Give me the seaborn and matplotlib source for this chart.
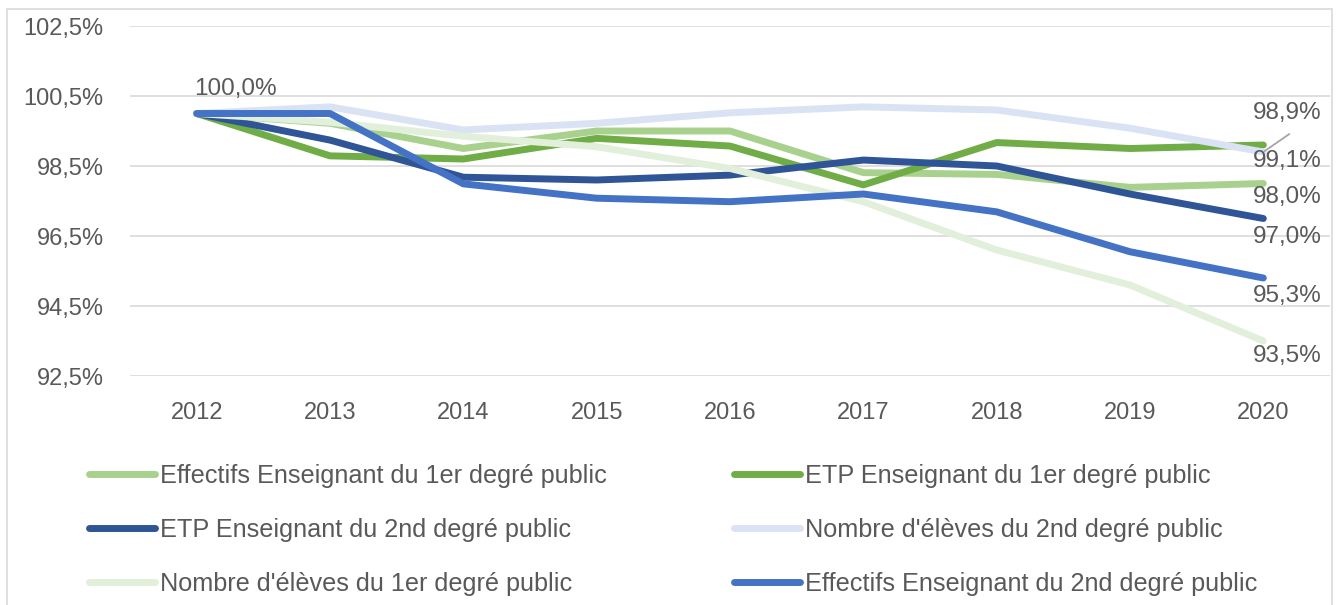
import matplotlib
matplotlib.use("Agg")
import matplotlib.pyplot as plt
from matplotlib.lines import Line2D
from matplotlib.patches import Rectangle
import pandas as pd
import seaborn as sns

# values (index 2012 = 100 %)
annees = [2012, 2013, 2014, 2015, 2016, 2017, 2018, 2019, 2020]
effectifs_1er = [100, 99.72, 99.0, 99.5, 99.5, 98.31, 98.26, 97.89, 98.0]
etp_1er = [100, 98.79, 98.7, 99.29, 99.07, 97.96, 99.17, 99.0, 99.1]
etp_2nd = [100, 99.24, 98.18, 98.1, 98.24, 98.67, 98.5, 97.7, 97.0]
eleves_2nd = [100, 100.19, 99.53, 99.72, 100.02, 100.19, 100.1, 99.58, 98.9]
eleves_1er = [100, 99.75, 99.35, 99.05, 98.43, 97.48, 96.1, 95.1, 93.5]
effectifs_2nd = [100, 100.0, 97.99, 97.58, 97.48, 97.7, 97.19, 96.05, 95.3]

noms = ["Effectifs Enseignant du 1er degré public",
        "ETP Enseignant du 1er degré public",
        "ETP Enseignant du 2nd degré public",
        "Nombre d'élèves du 2nd degré public",
        "Nombre d'élèves du 1er degré public",
        "Effectifs Enseignant du 2nd degré public"]
series = [effectifs_1er, etp_1er, etp_2nd, eleves_2nd, eleves_1er, effectifs_2nd]
couleurs = ["#A9D18E", "#70AD47", "#2F5597", "#DAE3F3", "#E2EFDA", "#4472C4"]
y_ticks = [92.5, 94.5, 96.5, 98.5, 100.5, 102.5]

rows = []
for nom, vals in zip(noms, series):
    for a, v in zip(annees, vals):
        rows.append({"annee": a, "valeur": v, "serie": nom})
df = pd.DataFrame(rows)

sns.set_theme(style="white")
plt.rcParams["font.family"] = ["Liberation Sans", "DejaVu Sans"]
gris = "#595959"

fig = plt.figure(figsize=(13.38, 6.05), dpi=100)
W, H = 1338, 605
ax = fig.add_axes([130 / W, 1 - 376 / H, 1200 / W, 350 / H])

sns.lineplot(data=df, x="annee", y="valeur", hue="serie", hue_order=noms,
             palette=dict(zip(noms, couleurs)), linewidth=5, ax=ax, legend=False)
for ln in ax.lines:
    ln.set_solid_capstyle("round")
    ln.set_solid_joinstyle("round")

ax.set_xlim(2011.5, 2020.5)
ax.set_ylim(92.5, 102.5)
ax.set_xticks(annees)
ax.set_yticks(y_ticks)
ax.set_yticklabels([f"{t:.1f}".replace(".", ",") + "%" for t in y_ticks])
ax.set_xlabel("")
ax.set_ylabel("")
ax.grid(axis="y", color="#D9D9D9", linewidth=1.2)
ax.set_axisbelow(True)
for s in ax.spines.values():
    s.set_visible(False)
ax.tick_params(axis="both", length=0, labelsize=17, colors=gris)
ax.tick_params(axis="y", pad=19)
ax.tick_params(axis="x", pad=19)

def fmt(v):
    return f"{v:.1f}".replace(".", ",") + "%"

# data labels
ax.annotate(fmt(effectifs_2nd[0]), (annees[0], effectifs_2nd[0]), xytext=(39, 25),
            textcoords="offset pixels", ha="center", va="center", fontsize=17.5, color=gris)
decalages = [14, 16, 19, 0, 15, 18]
for nom, vals, dy in zip(noms, series, decalages):
    if nom == "Nombre d'élèves du 2nd degré public":
        continue
    ax.annotate(fmt(vals[-1]), (annees[-1], vals[-1]), xytext=(24, -dy),
                textcoords="offset pixels", ha="center", va="center", fontsize=17.5, color=gris)
ax.annotate(fmt(eleves_2nd[-1]), (annees[-1], eleves_2nd[-1]), xytext=(24, 39),
            textcoords="offset pixels", ha="center", va="center", fontsize=17.5, color=gris)
# leader line for the 98,9% label
ax.annotate("", (annees[-1], eleves_2nd[-1]), xytext=(26, 18), textcoords="offset pixels",
            arrowprops=dict(arrowstyle="-", color="#A6A6A6", lw=1.3, shrinkA=0, shrinkB=1))

# legend in two columns
handles = [Line2D([0], [0], color=c, lw=5, solid_capstyle="round") for c in couleurs]
col1 = [0, 2, 4]
col2 = [1, 3, 5]
for idx, x0 in [(col1, 89), (col2, 734)]:
    fig.legend([handles[i] for i in idx], [noms[i] for i in idx], loc="upper left",
               bbox_to_anchor=(x0 / W, 1 - 464 / H), frameon=False, fontsize=18.2,
               handlelength=2.6, handletextpad=0.2, labelspacing=1.18,
               borderpad=0, borderaxespad=0, labelcolor=gris)

fig.patches.append(Rectangle((7 / W, -0.05), (1332 - 7) / W, (H - 9) / H + 0.05,
                             transform=fig.transFigure, fill=False,
                             edgecolor="#D9D9D9", linewidth=1.2))

fig.savefig("out.png", dpi=100, facecolor="white")
